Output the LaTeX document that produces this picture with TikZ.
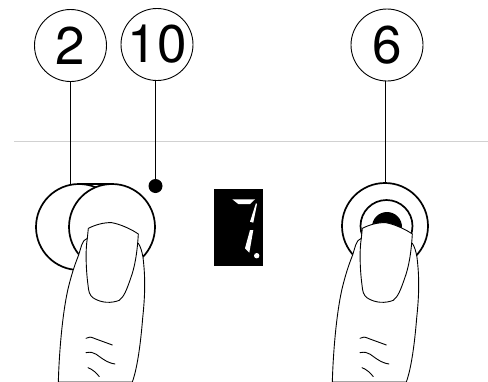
\documentclass[tikz,border=0pt]{standalone}
\usepackage{fontspec}
\setmainfont{TeX Gyre Heros}
\tikzset{
  x=1pt,y=-1pt,
  callout/.style={draw,circle,line width=0.9pt,minimum size=72pt,inner sep=-3pt,font=\fontsize{53}{53}\selectfont},
  leader/.style={line width=1pt},
  knob/.style={draw,circle,fill=white,line width=1.7pt,inner sep=0pt,outer sep=0pt},
  fingerline/.style={line width=0.9pt,line join=round,line cap=round},
  segment/.style={fill=white},
}
\newcommand{\fingerat}[1]{%
  \begin{scope}[shift={(#1,160)},x=0.3333pt,y=-0.3333pt]
    \draw[fingerline,fill=white] (175,666) .. controls (178,560) and (190,440) .. (207,375)
      .. controls (217,335) and (228,305) .. (236,285)
      .. controls (243,265) and (245,240) .. (262,235)
      -- (415,250)
      .. controls (422,260) and (426,275) .. (429,292)
      .. controls (436,350) and (436,400) .. (428,475)
      .. controls (422,550) and (412,625) .. (397,666) -- cycle;
    \draw[fingerline,fill=white] (265,205) .. controls (285,195) and (310,187) .. (335,188)
      .. controls (360,192) and (395,208) .. (415,222)
      .. controls (412,275) and (405,320) .. (392,355)
      .. controls (380,390) and (372,410) .. (358,421)
      .. controls (335,430) and (305,430) .. (280,414)
      .. controls (268,405) and (266,395) .. (264,375)
      .. controls (258,330) and (256,270) .. (262,235) -- cycle;
    \draw[fingerline] (258,535) .. controls (266,530) and (272,530) .. (285,536) -- (337,555);
    \draw[fingerline] (258,578) .. controls (285,572) and (295,590) .. (310,598) .. controls (322,606) and (335,611) .. (345,612);
    \draw[fingerline] (264,623) .. controls (278,628) and (290,640) .. (298,650);
  \end{scope}}
\begin{document}
\begin{tikzpicture}
\useasboundingbox (0,0) rectangle (488,381);
\fill[white] (0,0) rectangle (488,381);
\coordinate (ruleL) at (14,141);
\coordinate (ruleR) at (488,141);
\draw[line width=0.8pt,black!18] (ruleL) -- (ruleR);

\node[callout] (n2) at (70.5,45.5) {2};
\node[callout] (n10) at (157,44.5) {10};
\node[callout] (n6) at (387,45) {6};

% left control
\node[knob,minimum size=86pt] (btnA) at (79,227) {};
\node[knob,minimum size=86pt] (btnB) at (112,227) {};
\draw[line width=1.7pt] (btnA.north) -- (btnB.north);
\node[circle,fill=black,minimum size=14pt,inner sep=0pt] (dot) at (155.5,186) {};
\draw[leader] (n2.south) -- (n2.south |- btnA.north);
\draw[leader] (dot.center) -- (dot.center |- n10.south);
\fingerat{0}

% display
\node[fill=black,minimum width=49pt,minimum height=77pt,inner sep=0pt] (disp) at (238.5,227.5) {};
\fill[segment] (232.3,199.3) -- (255,199.3) -- (250,204) -- (238.3,204) -- cycle;
\fill[segment] (256,203) -- (257,204) -- (253.3,222.7) -- (250,221.7) -- cycle;
\fill[segment] (250,230) -- (253.3,230) -- (249.3,252.7) -- (245,248.3) -- cycle;
\node[circle,fill=white,minimum size=5.4pt,inner sep=0pt] (dp) at (256.7,255.7) {};

% right control
\node[knob,minimum size=86pt] (btnC) at (385,226) {};
\node[knob,minimum size=52pt] (btnD) at (386.5,226) {};
\node[circle,fill=black,minimum size=30pt,inner sep=0pt] (btnE) at (387,227) {};
\draw[leader] (n6.south -| btnC.north) -- (btnC.north);
\fingerat{274}
\end{tikzpicture}
\end{document}
